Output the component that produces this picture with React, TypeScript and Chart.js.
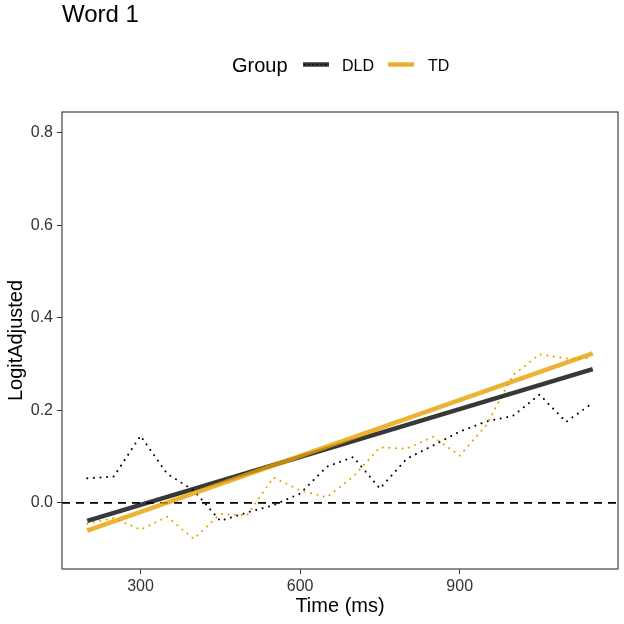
import React, { useEffect, useRef } from 'react';
import { Chart, ChartConfiguration, Plugin, registerables } from 'chart.js';

Chart.register(...registerables);

// observed (binned) logit values, every 50 ms
const TIME_MS = [200, 250, 300, 350, 400, 450, 500, 550, 600, 650, 700, 750, 800, 850, 900, 950, 1000, 1050, 1100, 1150];
const DLD_OBSERVED = [0.053, 0.057, 0.145, 0.063, 0.027, -0.039, -0.021, -0.005, 0.02, 0.078, 0.099, 0.031, 0.095, 0.124, 0.154, 0.176, 0.188, 0.234, 0.175, 0.216];
const TD_OBSERVED = [-0.045, -0.033, -0.058, -0.03, -0.078, -0.024, -0.027, 0.055, 0.027, 0.012, 0.057, 0.12, 0.117, 0.143, 0.102, 0.168, 0.276, 0.321, 0.312, 0.313];

// linear fit endpoints
const FIT_TIME_MS = [200, 1150];
const DLD_FIT = [-0.039, 0.289];
const TD_FIT = [-0.06, 0.323];

const GROUPS = ['DLD', 'TD'];
const X_TICKS = [300, 600, 900];
const Y_TICKS = [0, 0.2, 0.4, 0.6, 0.8];
const X_LIMITS = [152.5, 1197.5];
const Y_LIMITS = [-0.143, 0.845];
const REFERENCE_LINE = 0;

const FONT = "'Liberation Sans', Arial, Helvetica, sans-serif";
const DLD_SOLID = 'rgba(0, 0, 0, 0.78)';
const DLD_DOT = '#000000';
const TD_SOLID = 'rgba(230, 159, 0, 0.8)';
const TD_DOT = '#E69F00';

const toPoints = (xs: number[], ys: number[]) => xs.map((x, i) => ({ x, y: ys[i] }));

const drawKey = (ctx: CanvasRenderingContext2D, x: number, y: number, solid: string, dot: string) => {
  ctx.save();
  ctx.setLineDash([]);
  ctx.lineCap = 'butt';
  ctx.strokeStyle = solid;
  ctx.lineWidth = 4.5;
  ctx.beginPath();
  ctx.moveTo(x, y);
  ctx.lineTo(x + 26, y);
  ctx.stroke();
  ctx.strokeStyle = dot;
  ctx.lineWidth = 1.5;
  ctx.lineCap = 'round';
  ctx.setLineDash([0.1, 4]);
  ctx.beginPath();
  ctx.moveTo(x + 2, y);
  ctx.lineTo(x + 25, y);
  ctx.stroke();
  ctx.restore();
};

const decorations: Plugin = {
  id: 'decorations',
  beforeDatasetsDraw(chart) {
    const { ctx, chartArea, scales } = chart;
    const y0 = scales.y.getPixelForValue(REFERENCE_LINE);
    ctx.save();
    ctx.beginPath();
    ctx.rect(chartArea.left, chartArea.top, chartArea.right - chartArea.left, chartArea.bottom - chartArea.top);
    ctx.clip();
    ctx.strokeStyle = '#000000';
    ctx.lineWidth = 1.6;
    ctx.setLineDash([8, 6]);
    ctx.beginPath();
    ctx.moveTo(chartArea.left, y0);
    ctx.lineTo(chartArea.right, y0);
    ctx.stroke();
    ctx.restore();
  },
  afterDraw(chart) {
    const { ctx, chartArea } = chart;
    ctx.save();
    // panel border
    ctx.strokeStyle = '#444444';
    ctx.lineWidth = 1.2;
    ctx.strokeRect(chartArea.left, chartArea.top, chartArea.right - chartArea.left, chartArea.bottom - chartArea.top);

    // title
    ctx.fillStyle = '#000000';
    ctx.textBaseline = 'alphabetic';
    ctx.textAlign = 'left';
    ctx.font = `24px ${FONT}`;
    ctx.fillText('Word 1', 62, 22);

    // legend
    ctx.font = `20px ${FONT}`;
    ctx.fillText('Group', 232, 72);
    drawKey(ctx, 303, 64.5, DLD_SOLID, DLD_DOT);
    drawKey(ctx, 388, 64.5, TD_SOLID, TD_DOT);
    ctx.font = `16px ${FONT}`;
    ctx.fillText(GROUPS[0], 342, 71);
    ctx.fillText(GROUPS[1], 428, 71);
    ctx.restore();
  },
};

const App: React.FC = () => {
  const canvasRef = useRef<HTMLCanvasElement | null>(null);
  const chartRef = useRef<Chart | null>(null);

  useEffect(() => {
    if (!canvasRef.current) return;
    const ctx = canvasRef.current.getContext('2d');
    if (!ctx) return;

    if (chartRef.current) {
      chartRef.current.destroy();
    }

    const tickFont = { family: FONT, size: 16 };

    const config: ChartConfiguration<'line'> = {
      type: 'line',
      data: {
        datasets: [
          {
            label: `${GROUPS[1]} fit`,
            data: toPoints(FIT_TIME_MS, TD_FIT),
            borderColor: TD_SOLID,
            borderWidth: 4.5,
            pointRadius: 0,
            tension: 0,
          },
          {
            label: `${GROUPS[0]} fit`,
            data: toPoints(FIT_TIME_MS, DLD_FIT),
            borderColor: DLD_SOLID,
            borderWidth: 4.5,
            pointRadius: 0,
            tension: 0,
          },
          {
            label: GROUPS[1],
            data: toPoints(TIME_MS, TD_OBSERVED),
            borderColor: TD_DOT,
            borderWidth: 2,
            borderDash: [0.1, 6.5],
            borderCapStyle: 'round',
            pointRadius: 0,
            tension: 0,
          },
          {
            label: GROUPS[0],
            data: toPoints(TIME_MS, DLD_OBSERVED),
            borderColor: DLD_DOT,
            borderWidth: 2,
            borderDash: [0.1, 6.5],
            borderCapStyle: 'round',
            pointRadius: 0,
            tension: 0,
          },
        ],
      },
      options: {
        responsive: true,
        maintainAspectRatio: false,
        animation: false,
        layout: { padding: { top: 112, right: 6, left: 0, bottom: 0 } },
        plugins: {
          legend: { display: false },
          tooltip: { enabled: false },
          title: { display: false },
        },
        scales: {
          x: {
            type: 'linear',
            min: X_LIMITS[0],
            max: X_LIMITS[1],
            afterBuildTicks: (scale) => {
              scale.ticks = X_TICKS.map((value) => ({ value }));
            },
            afterFit: (scale) => {
              scale.height = 55;
            },
            grid: {
              display: true,
              drawOnChartArea: false,
              drawTicks: true,
              tickLength: 5,
              color: '#333333',
            },
            border: { display: false },
            ticks: {
              color: '#333333',
              font: tickFont,
              padding: 3,
              maxRotation: 0,
              callback: (v) => String(v),
            },
            title: {
              display: true,
              text: 'Time (ms)',
              color: '#000000',
              font: { family: FONT, size: 20 },
              padding: { top: 0, bottom: 6 },
            },
          },
          y: {
            type: 'linear',
            min: Y_LIMITS[0],
            max: Y_LIMITS[1],
            afterBuildTicks: (scale) => {
              scale.ticks = Y_TICKS.map((value) => ({ value }));
            },
            afterFit: (scale) => {
              scale.width = 62;
            },
            grid: {
              display: true,
              drawOnChartArea: false,
              drawTicks: true,
              tickLength: 5,
              color: '#333333',
            },
            border: { display: false },
            ticks: {
              color: '#333333',
              font: tickFont,
              padding: 4,
              callback: (v) => Number(v).toFixed(1),
            },
            title: {
              display: true,
              text: 'LogitAdjusted',
              color: '#000000',
              font: { family: FONT, size: 20 },
              padding: { top: 4, bottom: 0 },
            },
          },
        },
      },
      plugins: [decorations],
    };

    chartRef.current = new Chart(ctx, config);

    return () => {
      if (chartRef.current) {
        chartRef.current.destroy();
        chartRef.current = null;
      }
    };
  }, []);

  return (
    <div style={{ position: 'absolute', left: 0, top: 0, width: 624, height: 624, background: '#ffffff' }}>
      <canvas ref={canvasRef} />
    </div>
  );
};

export default App;
